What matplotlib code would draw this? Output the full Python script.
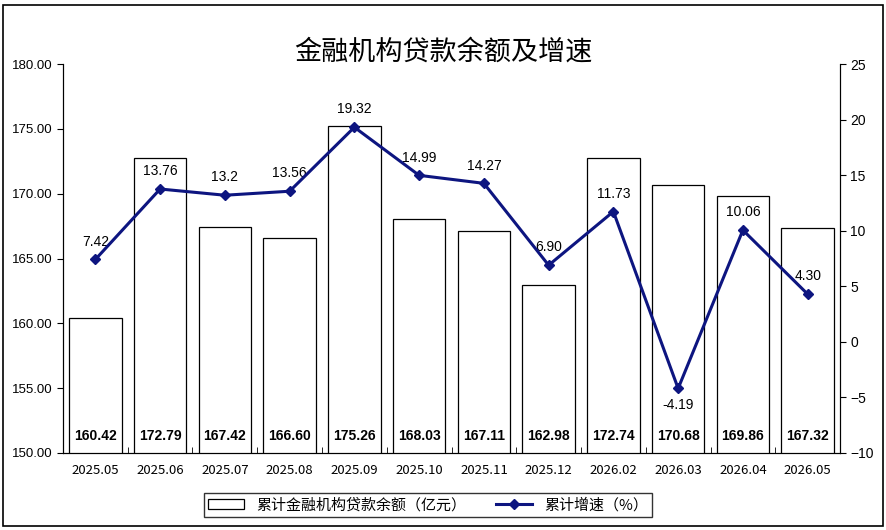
import matplotlib
matplotlib.use("Agg")
import matplotlib.pyplot as plt
from matplotlib.patches import Rectangle
import numpy as np

plt.rcParams['font.family'] = ['Liberation Sans', 'Noto Sans CJK SC', 'DejaVu Sans']

categories = ['2025.05', '2025.06', '2025.07', '2025.08', '2025.09', '2025.10',
              '2025.11', '2025.12', '2026.02', '2026.03', '2026.04', '2026.05']
balance = [160.42, 172.79, 167.42, 166.60, 175.26, 168.03, 167.11, 162.98,
           172.74, 170.68, 169.86, 167.32]
growth = [7.42, 13.76, 13.2, 13.56, 19.32, 14.99, 14.27, 6.90, 11.73, -4.19, 10.06, 4.30]
growth_labels = ['7.42', '13.76', '13.2', '13.56', '19.32', '14.99', '14.27', '6.90',
                 '11.73', '-4.19', '10.06', '4.30']
bar_name = '累计金融机构贷款余额（亿元）'
line_name = '累计增速（%）'
title = '金融机构贷款余额及增速'

fig = plt.figure(figsize=(8.86, 5.30), dpi=100)
fig.patches.append(Rectangle((0.003, 0.008), 0.994, 0.983, transform=fig.transFigure,
                             fill=False, edgecolor='black', linewidth=1.2))
ax = fig.add_axes([0.0711, 0.1453, 0.877, 0.7337])
x = np.arange(len(categories))
bars = ax.bar(x, balance, width=0.81, bottom=0, color='white', edgecolor='black',
              linewidth=0.9, label=bar_name, zorder=2)
ax.set_ylim(150, 180)
ax.set_xlim(-0.5, len(categories) - 0.5)
ax.set_yticks(np.arange(150, 181, 5))
ax.set_yticklabels([f'{v:.2f}' for v in np.arange(150, 181, 5)], fontsize=9.5)
ax.set_xticks(x)
ax.set_xticklabels(categories, fontsize=9.5, family=['Noto Sans CJK SC'])
ax.set_xticks(np.arange(-0.5, len(categories), 1), minor=True)
ax.tick_params(axis='x', which='major', length=0, pad=8)
ax.tick_params(axis='x', which='minor', length=4, direction='in')
ax.tick_params(axis='y', direction='out', length=4)
ax.spines['top'].set_visible(False)
for v, xi in zip(balance, x):
    ax.text(xi, 151.3, f'{v:.2f}', ha='center', va='center', fontsize=10,
            fontweight='bold', zorder=4)

ax2 = ax.twinx()
line, = ax2.plot(x, growth, color='#0d1580', linewidth=2.2, marker='D', markersize=5,
                 label=line_name, zorder=5)
ax2.set_ylim(-10, 25)
ax2.set_yticks(np.arange(-10, 26, 5))
ax2.tick_params(axis='y', direction='out', length=4, labelsize=10)
ax2.spines['top'].set_visible(False)
for xi, g, lbl in zip(x, growth, growth_labels):
    if g < 0:
        ax2.text(xi, g - 1.5, lbl, ha='center', va='center', fontsize=10)
    else:
        ax2.text(xi, g + 1.6, lbl, ha='center', va='center', fontsize=10)

fig.text(0.5, 0.902, title, ha='center', va='center', fontsize=19.5,
         family=['Noto Sans CJK SC'])
leg = fig.legend(handles=[bars, line], labels=[bar_name, line_name], loc='center',
                 bbox_to_anchor=(0.483, 0.047), ncol=2, frameon=True, fancybox=False,
                 edgecolor='black', prop={'family': ['Noto Sans CJK SC'], 'size': 10.8},
                 handlelength=2.4, columnspacing=2.0, borderpad=0.3)
leg.get_frame().set_linewidth(1.0)
fig.savefig('out.png', dpi=100)
